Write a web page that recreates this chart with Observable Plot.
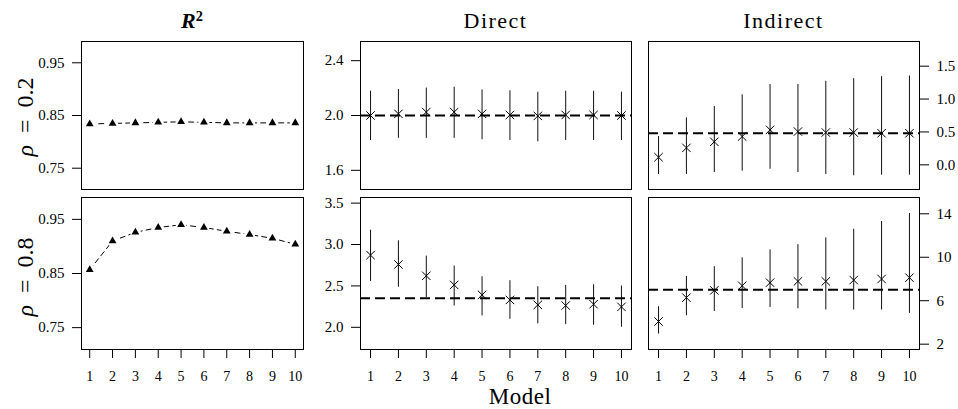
<!DOCTYPE html>
<html><head><meta charset="utf-8">
<script src="https://cdn.jsdelivr.net/npm/d3@7"></script>
<script src="https://cdn.jsdelivr.net/npm/@observablehq/plot@0.6"></script>
<style>
body{margin:0;background:#fff;}
#wrap{position:relative;width:958px;height:409px;overflow:hidden;font-family:"Liberation Serif",serif;color:#000;background:#fff;}
.lbl{position:absolute;line-height:1;white-space:nowrap;transform:translate(-50%,-50%);}
.rot{transform:translate(-50%,-50%) rotate(-90deg);}
svg{overflow:visible;}
</style></head><body><div id="wrap"></div>
<script>
// ---- data ----
const models = [1, 2, 3, 4, 5, 6, 7, 8, 9, 10];
const colTitles = ["Direct", "Indirect"];
const rowLabels = ["0.2", "0.8"];

const r2Rho02 = [0.834, 0.835, 0.836, 0.837, 0.838, 0.837, 0.836, 0.836, 0.836, 0.836];
const r2Rho08 = [0.857, 0.910, 0.926, 0.935, 0.940, 0.935, 0.928, 0.922, 0.915, 0.904];

const directRho02Est = [2.000, 2.012, 2.025, 2.025, 2.012, 2.004, 1.997, 2.004, 2.004, 2.000];
const directRho02Hi  = [2.177, 2.190, 2.200, 2.206, 2.186, 2.180, 2.170, 2.177, 2.177, 2.170];
const directRho02Lo  = [1.818, 1.833, 1.833, 1.833, 1.823, 1.818, 1.808, 1.818, 1.818, 1.818];

const directRho08Est = [2.872, 2.759, 2.622, 2.512, 2.392, 2.331, 2.271, 2.263, 2.279, 2.247];
const directRho08Hi  = [3.173, 3.045, 2.860, 2.740, 2.611, 2.563, 2.490, 2.506, 2.514, 2.498];
const directRho08Lo  = [2.554, 2.483, 2.361, 2.257, 2.137, 2.097, 2.041, 2.032, 2.024, 2.000];

const indirectRho02Est = [0.116, 0.258, 0.350, 0.430, 0.532, 0.506, 0.491, 0.491, 0.480, 0.480];
const indirectRho02Hi  = [0.430, 0.714, 0.886, 1.064, 1.220, 1.220, 1.270, 1.310, 1.340, 1.350];
const indirectRho02Lo  = [-0.147, -0.147, -0.117, -0.097, -0.067, -0.117, -0.147, -0.167, -0.158, -0.158];

const indirectRho08Est = [4.09, 6.28, 6.95, 7.38, 7.66, 7.78, 7.78, 7.90, 8.00, 8.12];
const indirectRho08Hi  = [5.45, 8.24, 9.13, 9.94, 10.68, 11.16, 11.78, 12.58, 13.29, 14.03];
const indirectRho08Lo  = [2.93, 4.62, 5.01, 5.29, 5.38, 5.26, 5.14, 5.14, 5.14, 4.83];

const trueDirect = [2.0, 2.35];
const trueIndirect = [0.48, 7.0];

const r2Ticks = [0.75, 0.85, 0.95];
const directTicks = [[1.6, 2.0, 2.4], [2.0, 2.5, 3.0, 3.5]];
const indirectTicks = [[0.0, 0.5, 1.0, 1.5], [2, 6, 10, 14]];

// ---- layout ----
const wrap = document.getElementById("wrap");
const cols = [{x: 81, w: 222}, {x: 360, w: 271}, {x: 648, w: 271}];
const rows = [{y: 41, h: 148}, {y: 197, h: 152}];
const xDomain = [0.64, 10.36];

function panel({col, row, ydom, yticks, yfmt, yanchor, marks}) {
  const showX = row === 1;
  const mL = yanchor === "left" ? 60 : 2;
  const mR = yanchor === "right" ? 50 : 2;
  const mT = 2, mB = showX ? 42 : 2;
  const {x, w} = cols[col], {y, h} = rows[row];
  const p = Plot.plot({
    width: w + mL + mR, height: h + mT + mB,
    marginLeft: mL, marginRight: mR, marginTop: mT, marginBottom: mB,
    style: {background: "transparent", color: "#000", fontFamily: "'Liberation Serif', serif", fontSize: "15px", overflow: "visible"},
    x: {domain: xDomain, axis: null},
    y: {domain: ydom},
    marks: [
      ...marks,
      Plot.frame({stroke: "#000", strokeWidth: 1}),
      Plot.axisY({anchor: yanchor, ticks: yticks, tickFormat: yfmt, tickSize: 9, tickPadding: 8, label: null}),
      ...(showX ? [Plot.axisX({ticks: models, tickSize: 9, tickPadding: 13, label: null, fontSize: 14})] : [])
    ]
  });
  p.style.position = "absolute";
  p.style.left = (x - mL) + "px";
  p.style.top = (y - mT) + "px";
  wrap.appendChild(p);
}

function r2Marks(vals) {
  const data = models.map((m, i) => ({model: m, r2: vals[i]}));
  return [
    Plot.line(data, {x: "model", y: "r2", stroke: "#000", strokeWidth: 1, strokeDasharray: "5,4"}),
    Plot.dot(data, {x: "model", y: "r2", r: 5.5, fill: "#fff", stroke: "none"}),
    Plot.dot(data, {x: "model", y: "r2", symbol: "triangle", r: 2.9, fill: "#000", stroke: "none"})
  ];
}

function ciMarks(est, lo, hi, ref) {
  const data = models.map((m, i) => ({model: m, est: est[i], lo: lo[i], hi: hi[i]}));
  return [
    Plot.ruleX(data, {x: "model", y1: "lo", y2: "hi", stroke: "#111", strokeWidth: 1}),
    Plot.ruleY([ref], {stroke: "#000", strokeWidth: 2, strokeDasharray: "10,5"}),
    Plot.dot(data, {x: "model", y: "est", symbol: "times", r: 3.9, stroke: "#000", strokeWidth: 1})
  ];
}

const r2Dom = [0.7096, 0.9904];
const fmt2 = d3.format(".2f"), fmt1 = d3.format(".1f"), fmt0 = d3.format("d");

panel({col: 0, row: 0, ydom: r2Dom, yticks: r2Ticks, yfmt: fmt2, yanchor: "left", marks: r2Marks(r2Rho02)});
panel({col: 0, row: 1, ydom: r2Dom, yticks: r2Ticks, yfmt: fmt2, yanchor: "left", marks: r2Marks(r2Rho08)});
panel({col: 1, row: 0, ydom: [1.46, 2.54], yticks: directTicks[0], yfmt: fmt1, yanchor: "left",
  marks: ciMarks(directRho02Est, directRho02Lo, directRho02Hi, trueDirect[0])});
panel({col: 1, row: 1, ydom: [1.732, 3.568], yticks: directTicks[1], yfmt: fmt1, yanchor: "left",
  marks: ciMarks(directRho08Est, directRho08Lo, directRho08Hi, trueDirect[1])});
panel({col: 2, row: 0, ydom: [-0.375, 1.875], yticks: indirectTicks[0], yfmt: fmt1, yanchor: "right",
  marks: ciMarks(indirectRho02Est, indirectRho02Lo, indirectRho02Hi, trueIndirect[0])});
panel({col: 2, row: 1, ydom: [1.51, 15.5], yticks: indirectTicks[1], yfmt: fmt0, yanchor: "right",
  marks: ciMarks(indirectRho08Est, indirectRho08Lo, indirectRho08Hi, trueIndirect[1])});

// ---- text labels ----
function label(html, x, y, size, cls, spacing) {
  const d = document.createElement("div");
  d.className = "lbl" + (cls ? " " + cls : "");
  d.style.left = x + "px"; d.style.top = y + "px"; d.style.fontSize = size + "px";
  if (spacing) d.style.letterSpacing = spacing + "px";
  d.innerHTML = html;
  wrap.appendChild(d);
}
label('<b><i>R</i><span style="font-size:0.65em;position:relative;top:-0.5em;">2</span></b>', 192, 21, 22);
label(colTitles[0], 495.5, 21, 22, null, 1.5);
label(colTitles[1], 783.5, 21, 22, null, 1.5);
label("Model", 520, 395.5, 23, null, 0.5);
label('<i>ρ</i>&ensp;=&ensp;' + rowLabels[0], 25, 117, 24, "rot");
label('<i>ρ</i>&ensp;=&ensp;' + rowLabels[1], 25, 277, 24, "rot");
</script>
</body></html>
